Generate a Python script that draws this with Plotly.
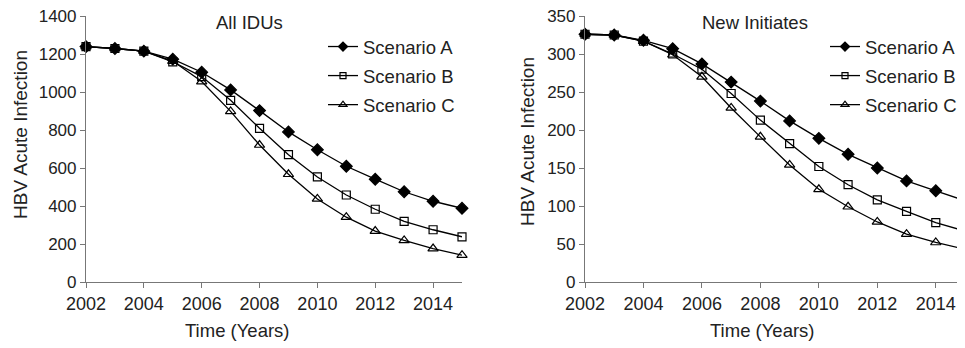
import plotly.graph_objects as go

years = list(range(2002, 2016))

idu_a = [1239, 1229, 1215, 1173, 1104, 1011, 902, 790, 696, 609, 541, 475, 425, 388]
idu_b = [1239, 1229, 1215, 1159, 1081, 956, 809, 670, 553, 458, 383, 319, 275, 238]
idu_c = [1239, 1229, 1215, 1163, 1055, 898, 721, 567, 437, 341, 268, 219, 176, 141]

ni_a = [326, 325, 318, 307, 287, 263, 238, 212, 189, 168, 150, 133, 120, 107]
ni_b = [326, 325, 317, 300, 280, 248, 213, 182, 152, 128, 108, 93, 78, 67]
ni_c = [326, 325, 317, 299, 270, 229, 191, 154, 122, 99, 79, 63, 52, 43]

scenario_names = ["Scenario A", "Scenario B", "Scenario C"]
panel_titles = ["All IDUs", "New Initiates"]
x_title = "Time (Years)"
y_title = "HBV Acute Infection"

FONT = "Liberation Sans, Arial, sans-serif"
TXT = "#222222"
AX = "#777777"

W, H = 965, 348
OFF = 8  # page body margin


def px(x):
    return (x - OFF) / W


def py(y):
    return 1 - (y - OFF) / H


symbols = ["diamond", "square-open", "triangle-up-open"]
sizes = [9, 8, 9]
legend_sizes = [7, 6, 7]

fig = go.Figure()

panels = [(idu_a, idu_b, idu_c), (ni_a, ni_b, ni_c)]
for p, series in enumerate(panels):
    xa = "x" if p == 0 else "x2"
    ya = "y" if p == 0 else "y2"
    lg = "legend" if p == 0 else "legend2"
    for i, vals in enumerate(series):
        fig.add_trace(go.Scatter(
            x=years, y=vals, name=scenario_names[i], mode="lines+markers",
            xaxis=xa, yaxis=ya, showlegend=False,
            line=dict(color="black", width=1.3),
            marker=dict(symbol=symbols[i], size=sizes[i], color="black",
                        line=dict(color="black", width=1.2)),
            cliponaxis=False,
        ))
    for i in range(3):
        fig.add_trace(go.Scatter(
            x=[None], y=[None], name=scenario_names[i], mode="lines+markers",
            xaxis=xa, yaxis=ya, legend=lg, legendgroup=f"{p}{i}", showlegend=True,
            line=dict(color="black", width=1.3),
            marker=dict(symbol=symbols[i], size=legend_sizes[i], color="black",
                        line=dict(color="black", width=1.2)),
        ))

axis_common = dict(
    showgrid=False, zeroline=False, showline=True, linecolor=AX, linewidth=1.2,
    ticks="outside", ticklen=5, tickcolor=AX, tickwidth=1.2, automargin=False,
    ticklabeloverflow="allow",
)
xfont = dict(family=FONT, size=18, color=TXT)
yfont = dict(family=FONT, size=17, color=TXT)

yd = [py(282), py(16)]
fig.update_layout(
    width=W, height=H,
    margin=dict(l=0, r=0, t=0, b=0, pad=0, autoexpand=False),
    paper_bgcolor="white", plot_bgcolor="white",
    font=dict(family=FONT, size=18, color=TXT),
    xaxis=dict(domain=[px(86), px(462)], range=[2002, 2015], tickvals=list(range(2002, 2015, 2)),
               anchor="y", tickfont=xfont, **axis_common),
    yaxis=dict(domain=yd, range=[0, 1400], dtick=200, anchor="x", tickfont=yfont, **axis_common),
    xaxis2=dict(domain=[px(585), px(965)], range=[2002, 2015], tickvals=list(range(2002, 2015, 2)),
                anchor="y2", tickfont=xfont, **axis_common),
    yaxis2=dict(domain=yd, range=[0, 350], dtick=50, anchor="x2", tickfont=yfont, **axis_common),
    legend=dict(x=px(323), y=py(28), xanchor="left", yanchor="top",
                font=dict(family=FONT, size=18.5, color=TXT), tracegroupgap=2,
                bgcolor="rgba(0,0,0,0)", itemwidth=30),
    legend2=dict(x=px(825), y=py(28), xanchor="left", yanchor="top",
                 font=dict(family=FONT, size=18.5, color=TXT), tracegroupgap=2,
                 bgcolor="rgba(0,0,0,0)", itemwidth=30),
    showlegend=True,
)

ann = []
ann.append(dict(text=panel_titles[0], x=px(250), y=py(22), xref="paper", yref="paper",
                showarrow=False, xanchor="center", yanchor="middle", font=dict(size=18.5)))
ann.append(dict(text=panel_titles[1], x=px(755), y=py(22), xref="paper", yref="paper",
                showarrow=False, xanchor="center", yanchor="middle", font=dict(size=18.5)))
ann.append(dict(text=x_title, x=px(237), y=py(330), xref="paper", yref="paper",
                showarrow=False, xanchor="center", yanchor="middle", font=dict(size=18.5)))
ann.append(dict(text=x_title, x=px(762), y=py(330), xref="paper", yref="paper",
                showarrow=False, xanchor="center", yanchor="middle", font=dict(size=18.5)))
ann.append(dict(text=y_title, x=px(20), y=py(135), xref="paper", yref="paper",
                showarrow=False, xanchor="center", yanchor="middle", textangle=-90, font=dict(size=19)))
ann.append(dict(text=y_title, x=px(528), y=py(142), xref="paper", yref="paper",
                showarrow=False, xanchor="center", yanchor="middle", textangle=-90, font=dict(size=19)))
fig.update_layout(annotations=ann)

fig.write_html("out.html")
